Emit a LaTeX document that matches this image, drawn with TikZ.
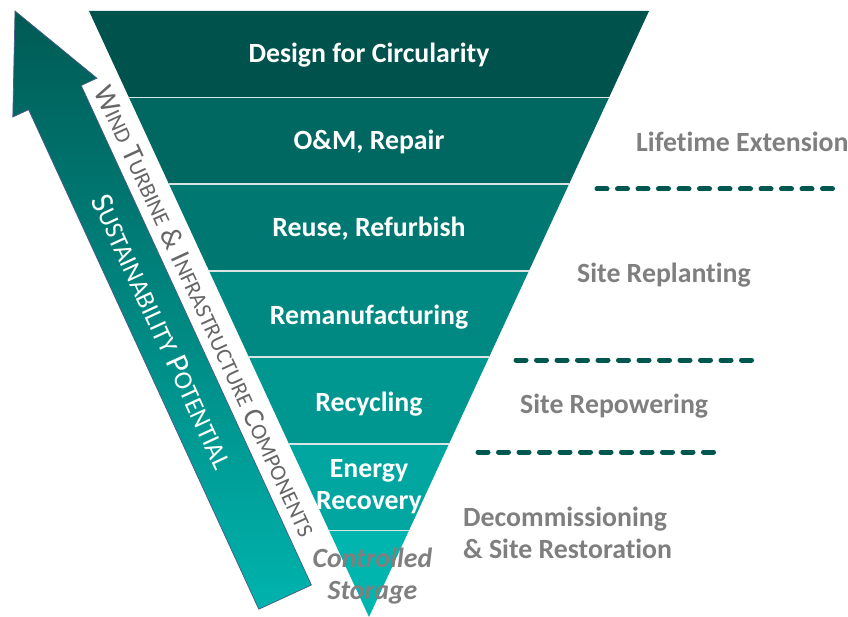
\documentclass[tikz,border=0pt]{standalone}
\usepackage{fontspec}
\setmainfont{Carlito}[Ligatures=NoCommon]
\definecolor{bA}{HTML}{00524C}
\definecolor{bB}{HTML}{006761}
\definecolor{bC}{HTML}{007872}
\definecolor{bD}{HTML}{008882}
\definecolor{bE}{HTML}{009791}
\definecolor{bF}{HTML}{00A69F}
\definecolor{bG}{HTML}{00B5AE}
\definecolor{arrtop}{HTML}{005A54}
\definecolor{arrbot}{HTML}{00B3AD}
\definecolor{arredge}{HTML}{4A5A8C}
\definecolor{lblgray}{HTML}{7F7F7F}
\definecolor{rotgray}{HTML}{666666}
\definecolor{dashcol}{HTML}{00574F}
\newcommand{\fakesc}[3]{#2{\fontsize{#1}{#1}\selectfont #3}}
\tikzset{
  bandtxt/.style={text=white, font=\fontsize{27.8}{32}\selectfont\bfseries, align=center, anchor=base, inner sep=0pt},
  sidetxt/.style={text=lblgray, font=\fontsize{27.8}{32}\selectfont\bfseries, anchor=base west, inner sep=0pt},
  sep/.style={draw=white!85!bA, line width=1.6pt},
  divider/.style={draw=dashcol, line width=5pt, line cap=round, dash pattern=on 10pt off 10.5pt}
}
\begin{document}
\begin{tikzpicture}[x=1pt,y=-1pt]
\useasboundingbox (0,0) rectangle (848,617);
% band corners
\coordinate (L0) at (89,11);      \coordinate (R0) at (649,11);
\coordinate (L1) at (129,97.57);  \coordinate (R1) at (609,97.57);
\coordinate (L2) at (169,184.14); \coordinate (R2) at (569,184.14);
\coordinate (L3) at (209,270.71); \coordinate (R3) at (529,270.71);
\coordinate (L4) at (249,357.29); \coordinate (R4) at (489,357.29);
\coordinate (L5) at (289,443.86); \coordinate (R5) at (449,443.86);
\coordinate (L6) at (329,530.43); \coordinate (R6) at (409,530.43);
\coordinate (AP) at (369,617);
\fill[bA] (L0) -- (R0) -- (R1) -- (L1) -- cycle;
\fill[bB] (L1) -- (R1) -- (R2) -- (L2) -- cycle;
\fill[bC] (L2) -- (R2) -- (R3) -- (L3) -- cycle;
\fill[bD] (L3) -- (R3) -- (R4) -- (L4) -- cycle;
\fill[bE] (L4) -- (R4) -- (R5) -- (L5) -- cycle;
\fill[bF] (L5) -- (R5) -- (R6) -- (L6) -- cycle;
\fill[bG] (L6) -- (R6) -- (AP) -- cycle;
\foreach \k in {1,...,6} { \draw[sep] (L\k) -- (R\k); }
% arrow
\coordinate (aT) at (15,11);
\coordinate (aRW) at (96.9,78.2);
\coordinate (aRT) at (81.2,85.5);
\coordinate (aRB) at (311.4,585);
\coordinate (aLB) at (258.8,609.2);
\coordinate (aLT) at (28.6,109.7);
\coordinate (aLW) at (12.8,117);
\path[top color=arrtop, bottom color=arrbot, draw=arredge, line width=0.7pt, line join=miter]
  (aT) -- (aRW) -- (aRT) -- (aRB) -- (aLB) -- (aLT) -- (aLW) -- cycle;
% band labels
\node[bandtxt] (t1) at (369,63) {Design for Circularity};
\node[bandtxt] (t2) at (369,150) {O\&M, Repair};
\node[bandtxt] (t3) at (369,237) {Reuse, Refurbish};
\node[bandtxt] (t4) at (369,324) {Remanufacturing};
\node[bandtxt] (t5) at (369,411) {Recycling};
\node[bandtxt, anchor=center] (t6) at (369,487) {Energy\\Recovery};
\node[bandtxt, anchor=center, text=lblgray, font=\fontsize{27.8}{32}\selectfont\bfseries\itshape] (t7) at (372.5,576) {Controlled\\Storage};
% side labels
\node[sidetxt] (s1) at (636,152) {Lifetime Extension};
\node[sidetxt] (s2) at (577,283) {Site Replanting};
\node[sidetxt] (s3) at (520,413) {Site Repowering};
\node[sidetxt, align=left, anchor=west] (s4) at (463,533) {Decommissioning\\\& Site Restoration};
% dashed dividers
\coordinate (d1a) at (597,189); \coordinate (d1b) at (836,189);
\coordinate (d2a) at (516,360); \coordinate (d2b) at (756,360);
\coordinate (d3a) at (478,452); \coordinate (d3b) at (717,452);
\draw[divider] (d1a) -- (d1b);
\draw[divider] (d2a) -- (d2b);
\draw[divider] (d3a) -- (d3b);
% rotated texts
\node[text=rotgray, rotate=-65.25, inner sep=0pt, font=\fontsize{29}{29}\selectfont] (wt) at (206.1,310.9)
  {\fakesc{22.5}{W}{IND} \fakesc{22.5}{T}{URBINE} \& \fakesc{22.5}{I}{NFRASTRUCTURE} \fakesc{22.5}{C}{OMPONENTS}};
\node[text=white, rotate=-65.25, inner sep=0pt, font=\fontsize{32}{32}\selectfont] (sp) at (162.7,331.5)
  {\fakesc{26}{S}{USTAINABILITY} \fakesc{26}{P}{OTENTIAL}};
\end{tikzpicture}
\end{document}
